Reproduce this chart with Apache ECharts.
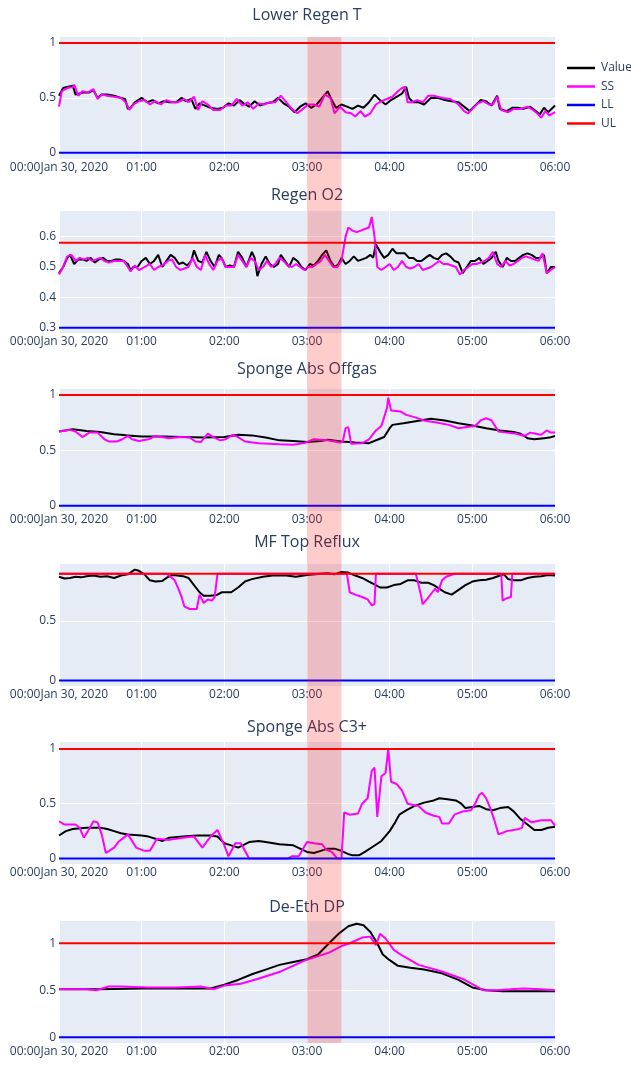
<!DOCTYPE html>
<html><head><meta charset="utf-8">
<script src="https://cdn.jsdelivr.net/npm/echarts@6/dist/echarts.min.js"></script>
<style>html,body{margin:0;padding:0;background:#fff}#c{width:631px;height:1066px}</style>
</head><body><div id="c"></div>
<script>
// ---------------- DATA ----------------
const titles = ['Lower Regen T', 'Regen O2', 'Sponge Abs Offgas', 'MF Top Reflux', 'Sponge Abs C3+', 'De-Eth DP'];
const seriesNames = ['Value', 'SS', 'LL', 'UL'];
const xTickValues = [0, 60, 120, 180, 240, 300, 360]; // minutes after 00:00 Jan 30, 2020
const xTickLabels = ['00:00Jan 30, 2020', '01:00', '02:00', '03:00', '04:00', '05:00', '06:00'];
const yTicks1 = [0, 0.5, 1];
const yTicks2 = [0.3, 0.4, 0.5, 0.6];
const yTicks3 = [0, 0.5, 1];
const yTicks4 = [0, 0.5];
const yTicks5 = [0, 0.5, 1];
const yTicks6 = [0, 0.5, 1];
const llValues = [0, 0.3, 0, 0, 0, 0];
const ulValues = [1, 0.58, 1, 0.895, 1, 1];
const shadeStart = 180, shadeEnd = 205; // 03:00 - 03:25

// [minute, value]
const value1 = [[0,0.52],[3,0.59],[6,0.6],[10,0.61],[12,0.53],[15,0.54],[18,0.55],[22,0.55],[25,0.57],[28,0.5],[31,0.53],[35,0.53],[40,0.52],[45,0.5],[48,0.49],[50,0.4],[52,0.41],[55,0.46],[60,0.5],[64,0.46],[68,0.48],[72,0.45],[76,0.47],[80,0.46],[85,0.46],[89,0.5],[92,0.47],[96,0.49],[99,0.4],[102,0.45],[106,0.43],[110,0.41],[115,0.4],[119,0.41],[123,0.45],[127,0.43],[131,0.48],[134,0.45],[138,0.42],[142,0.47],[146,0.43],[150,0.45],[155,0.46],[159,0.5],[163,0.45],[167,0.42],[171,0.37],[175,0.42],[179,0.45],[183,0.41],[187,0.44],[191,0.5],[195,0.56],[198,0.48],[201,0.41],[205,0.44],[209,0.42],[213,0.4],[217,0.43],[221,0.41],[225,0.46],[229,0.53],[233,0.48],[237,0.44],[241,0.48],[245,0.51],[249,0.54],[252,0.6],[254,0.5],[257,0.46],[261,0.46],[265,0.44],[270,0.5],[275,0.5],[280,0.48],[285,0.47],[290,0.46],[295,0.41],[298,0.38],[302,0.43],[306,0.48],[310,0.47],[314,0.43],[318,0.52],[320,0.4],[325,0.38],[329,0.41],[333,0.41],[337,0.4],[342,0.42],[346,0.38],[349,0.35],[352,0.41],[355,0.37],[360,0.43]];
const ss1 = [[0,0.42],[2,0.56],[6,0.59],[10,0.6],[11,0.62],[14,0.52],[17,0.56],[21,0.55],[25,0.58],[28,0.49],[31,0.53],[35,0.52],[40,0.51],[45,0.5],[49,0.45],[51,0.39],[54,0.44],[58,0.47],[62,0.48],[66,0.44],[70,0.47],[74,0.44],[78,0.48],[82,0.46],[86,0.46],[91,0.49],[94,0.46],[98,0.51],[101,0.39],[104,0.47],[108,0.44],[112,0.39],[117,0.39],[121,0.43],[125,0.43],[129,0.49],[133,0.43],[137,0.46],[141,0.4],[145,0.45],[149,0.44],[153,0.46],[157,0.46],[161,0.52],[165,0.46],[169,0.4],[173,0.36],[177,0.4],[181,0.44],[185,0.44],[189,0.42],[193,0.53],[197,0.5],[200,0.36],[204,0.42],[208,0.37],[212,0.36],[215,0.33],[219,0.38],[222,0.33],[226,0.36],[230,0.44],[234,0.47],[238,0.49],[242,0.51],[246,0.56],[249,0.59],[251,0.6],[253,0.46],[256,0.46],[260,0.48],[264,0.46],[268,0.52],[272,0.52],[278,0.5],[284,0.49],[290,0.44],[294,0.38],[297,0.36],[300,0.4],[304,0.45],[308,0.47],[312,0.44],[315,0.44],[318,0.51],[321,0.39],[326,0.37],[330,0.4],[335,0.4],[340,0.42],[344,0.39],[347,0.36],[350,0.32],[353,0.38],[356,0.34],[360,0.37]];

const value2 = [[0,0.48],[3,0.5],[6,0.53],[8,0.54],[11,0.51],[14,0.525],[17,0.525],[20,0.52],[23,0.53],[26,0.515],[29,0.525],[32,0.53],[35,0.52],[38,0.52],[41,0.525],[44,0.525],[47,0.52],[50,0.51],[52,0.49],[54,0.5],[57,0.5],[60,0.52],[63,0.53],[66,0.51],[69,0.52],[72,0.54],[75,0.5],[78,0.52],[81,0.54],[84,0.53],[87,0.51],[90,0.515],[93,0.505],[96,0.52],[98,0.555],[101,0.52],[104,0.515],[107,0.55],[110,0.52],[113,0.5],[116,0.54],[118,0.53],[121,0.5],[124,0.505],[127,0.5],[130,0.55],[133,0.53],[136,0.5],[140,0.55],[142,0.53],[144,0.47],[147,0.51],[150,0.535],[153,0.51],[156,0.5],[159,0.51],[161,0.54],[164,0.52],[167,0.5],[170,0.53],[173,0.52],[176,0.5],[179,0.49],[182,0.51],[185,0.505],[188,0.52],[191,0.54],[194,0.555],[197,0.52],[200,0.5],[203,0.51],[205,0.53],[208,0.51],[211,0.52],[214,0.535],[217,0.52],[220,0.525],[223,0.53],[226,0.54],[228,0.53],[230,0.575],[233,0.55],[236,0.53],[239,0.54],[242,0.56],[245,0.545],[248,0.545],[251,0.545],[254,0.53],[257,0.53],[260,0.52],[263,0.52],[266,0.53],[269,0.54],[272,0.53],[275,0.525],[278,0.54],[281,0.545],[284,0.535],[287,0.52],[290,0.515],[293,0.48],[296,0.5],[299,0.52],[302,0.52],[305,0.53],[308,0.51],[311,0.52],[314,0.53],[317,0.55],[319,0.52],[322,0.5],[325,0.53],[328,0.52],[331,0.52],[334,0.53],[337,0.54],[340,0.545],[343,0.54],[346,0.53],[349,0.53],[352,0.54],[354,0.48],[357,0.5],[360,0.5]];
const ss2 = [[0,0.475],[3,0.5],[6,0.535],[9,0.54],[12,0.52],[15,0.53],[18,0.525],[21,0.53],[24,0.52],[27,0.525],[30,0.53],[33,0.52],[36,0.515],[40,0.52],[44,0.52],[47,0.52],[50,0.5],[52,0.485],[55,0.505],[58,0.49],[62,0.5],[66,0.51],[69,0.49],[72,0.5],[75,0.505],[79,0.52],[82,0.525],[85,0.5],[88,0.49],[91,0.495],[94,0.5],[97,0.53],[100,0.5],[103,0.49],[106,0.54],[109,0.51],[112,0.49],[115,0.52],[118,0.53],[121,0.5],[124,0.5],[127,0.5],[130,0.54],[133,0.52],[136,0.5],[139,0.53],[142,0.52],[145,0.49],[148,0.5],[151,0.52],[154,0.5],[157,0.51],[160,0.53],[163,0.52],[166,0.505],[169,0.5],[172,0.51],[175,0.5],[178,0.49],[181,0.5],[184,0.5],[187,0.51],[190,0.52],[193,0.54],[196,0.52],[199,0.5],[202,0.5],[205,0.52],[208,0.6],[210,0.63],[213,0.62],[216,0.615],[219,0.62],[222,0.625],[225,0.63],[227,0.665],[229,0.6],[231,0.5],[234,0.49],[237,0.5],[240,0.51],[243,0.49],[246,0.5],[249,0.52],[252,0.5],[255,0.495],[258,0.5],[261,0.51],[264,0.49],[267,0.495],[270,0.5],[273,0.51],[276,0.52],[279,0.51],[282,0.51],[285,0.505],[288,0.5],[291,0.475],[294,0.49],[297,0.5],[300,0.51],[303,0.51],[306,0.515],[309,0.52],[312,0.53],[315,0.55],[318,0.51],[321,0.5],[324,0.52],[327,0.505],[330,0.51],[333,0.52],[336,0.53],[339,0.535],[342,0.53],[345,0.525],[348,0.52],[351,0.545],[354,0.48],[357,0.49],[360,0.5]];

const value3 = [[0,0.67],[10,0.69],[20,0.675],[30,0.665],[40,0.645],[45,0.64],[50,0.635],[60,0.625],[75,0.625],[90,0.62],[105,0.615],[120,0.62],[130,0.64],[140,0.635],[150,0.615],[160,0.59],[170,0.585],[180,0.575],[190,0.585],[195,0.595],[205,0.58],[215,0.57],[225,0.565],[232,0.6],[236,0.62],[240,0.7],[242,0.73],[250,0.745],[260,0.765],[270,0.785],[280,0.77],[290,0.745],[300,0.725],[310,0.7],[320,0.68],[330,0.665],[335,0.65],[340,0.61],[345,0.6],[352,0.61],[356,0.615],[360,0.63]];
const ss3 = [[0,0.67],[8,0.685],[12,0.67],[17,0.62],[22,0.66],[28,0.66],[33,0.6],[36,0.58],[42,0.58],[46,0.6],[50,0.63],[53,0.6],[58,0.585],[65,0.6],[70,0.63],[80,0.61],[88,0.62],[95,0.615],[99,0.58],[103,0.575],[108,0.65],[112,0.62],[117,0.59],[121,0.6],[126,0.64],[130,0.62],[135,0.58],[145,0.565],[160,0.555],[170,0.55],[178,0.565],[185,0.6],[195,0.59],[204,0.57],[206,0.58],[208,0.7],[210,0.71],[212,0.56],[220,0.565],[225,0.6],[230,0.68],[234,0.72],[236,0.8],[238,0.88],[239,0.975],[241,0.86],[248,0.85],[252,0.82],[258,0.8],[265,0.77],[275,0.75],[283,0.73],[290,0.7],[296,0.71],[302,0.72],[306,0.77],[310,0.79],[314,0.77],[319,0.67],[325,0.66],[332,0.65],[338,0.63],[342,0.66],[346,0.65],[350,0.64],[354,0.68],[357,0.66],[360,0.66]];

const value4 = [[0,0.87],[4,0.855],[8,0.86],[12,0.87],[16,0.865],[20,0.875],[25,0.88],[30,0.87],[35,0.875],[40,0.86],[45,0.88],[50,0.89],[55,0.93],[58,0.92],[62,0.89],[66,0.84],[70,0.83],[75,0.835],[78,0.86],[82,0.885],[86,0.88],[90,0.875],[94,0.86],[98,0.8],[102,0.74],[105,0.71],[110,0.71],[115,0.72],[118,0.74],[125,0.74],[130,0.78],[135,0.83],[140,0.85],[148,0.87],[155,0.88],[165,0.88],[172,0.87],[180,0.885],[190,0.895],[195,0.9],[200,0.89],[205,0.91],[210,0.905],[215,0.88],[220,0.86],[225,0.83],[230,0.8],[233,0.78],[238,0.78],[243,0.8],[248,0.81],[253,0.84],[258,0.84],[263,0.82],[268,0.82],[272,0.8],[276,0.77],[280,0.74],[285,0.72],[290,0.76],[295,0.8],[300,0.83],[305,0.84],[310,0.845],[315,0.86],[320,0.88],[323,0.89],[326,0.85],[330,0.84],[335,0.84],[340,0.86],[345,0.87],[350,0.875],[355,0.885],[360,0.88]];
const ss4 = [[0,0.895],[78,0.895],[81,0.87],[84,0.84],[87,0.76],[89,0.7],[91,0.62],[95,0.6],[100,0.6],[102,0.72],[105,0.65],[108,0.68],[111,0.67],[113,0.7],[115,0.895],[209,0.895],[211,0.74],[215,0.72],[220,0.7],[224,0.68],[227,0.63],[229,0.64],[230,0.895],[259,0.895],[261,0.8],[263,0.7],[264,0.64],[267,0.68],[271,0.74],[273,0.77],[275,0.74],[278,0.84],[281,0.87],[287,0.895],[321,0.895],[322,0.67],[325,0.69],[328,0.7],[329,0.895],[360,0.895]];

const value5 = [[0,0.21],[5,0.25],[10,0.27],[20,0.28],[30,0.28],[35,0.27],[40,0.25],[45,0.23],[50,0.22],[60,0.21],[65,0.2],[70,0.18],[75,0.16],[80,0.19],[90,0.2],[100,0.21],[110,0.21],[115,0.2],[120,0.14],[125,0.12],[130,0.1],[138,0.15],[145,0.16],[150,0.15],[160,0.13],[170,0.12],[175,0.09],[180,0.06],[185,0.05],[190,0.07],[195,0.09],[200,0.09],[205,0.07],[210,0.04],[213,0.03],[218,0.03],[222,0.06],[228,0.11],[234,0.16],[240,0.25],[244,0.33],[247,0.4],[252,0.44],[258,0.48],[265,0.51],[272,0.53],[276,0.55],[282,0.54],[288,0.53],[292,0.5],[295,0.46],[300,0.47],[305,0.48],[310,0.45],[315,0.44],[320,0.46],[326,0.47],[330,0.43],[335,0.36],[340,0.31],[345,0.26],[350,0.26],[355,0.28],[360,0.29]];
const ss5 = [[0,0.34],[4,0.31],[12,0.31],[15,0.28],[18,0.19],[21,0.25],[25,0.34],[28,0.33],[31,0.22],[34,0.05],[40,0.1],[43,0.15],[50,0.22],[56,0.1],[62,0.07],[66,0.07],[71,0.18],[80,0.17],[90,0.19],[98,0.2],[104,0.1],[110,0.2],[115,0.26],[120,0.12],[123,0.02],[128,0.14],[132,0.14],[138,0.0],[166,0.0],[169,0.02],[174,0.02],[180,0.15],[185,0.14],[191,0.13],[194,0.08],[198,0.06],[202,0.0],[205,0.0],[206,0.2],[207,0.42],[211,0.4],[217,0.41],[220,0.5],[224,0.55],[227,0.8],[229,0.83],[231,0.38],[234,0.75],[237,0.78],[239,1.0],[241,0.7],[245,0.68],[249,0.62],[253,0.5],[261,0.48],[266,0.42],[272,0.39],[276,0.38],[278,0.32],[283,0.32],[287,0.4],[293,0.43],[299,0.44],[302,0.5],[305,0.58],[307,0.6],[310,0.55],[313,0.46],[316,0.35],[319,0.22],[325,0.25],[334,0.27],[336,0.28],[338,0.37],[343,0.33],[350,0.35],[357,0.35],[360,0.3]];

const value6 = [[0,0.51],[30,0.51],[60,0.52],[90,0.52],[110,0.52],[120,0.56],[130,0.61],[140,0.67],[150,0.72],[160,0.77],[170,0.8],[180,0.83],[188,0.88],[196,1.0],[203,1.1],[210,1.18],[216,1.207],[221,1.19],[226,1.12],[231,1.0],[235,0.88],[240,0.82],[246,0.76],[255,0.74],[265,0.72],[278,0.68],[290,0.61],[300,0.53],[310,0.5],[322,0.49],[360,0.49]];
const ss6 = [[0,0.51],[20,0.51],[27,0.5],[36,0.54],[45,0.54],[65,0.53],[85,0.53],[103,0.54],[112,0.51],[120,0.55],[132,0.57],[144,0.62],[161,0.7],[179,0.82],[196,0.9],[205,0.97],[211,1.0],[220,1.06],[226,1.07],[230,0.98],[233,1.1],[237,1.05],[243,0.93],[249,0.87],[261,0.77],[278,0.7],[293,0.62],[302,0.55],[308,0.5],[317,0.5],[328,0.51],[337,0.52],[350,0.51],[360,0.5]];

const valueData = [value1, value2, value3, value4, value5, value6];
const ssData = [ss1, ss2, ss3, ss4, ss5, ss6];
const yTicks = [yTicks1, yTicks2, yTicks3, yTicks4, yTicks5, yTicks6];

// ---------------- LAYOUT ----------------
const gridTops = [37, 211, 389, 564, 742, 921];
const gridH = 122, gridLeft = 59, gridW = 496;
const titleCenters = [16, 196, 370, 543, 728, 908];
const yRanges = [[-0.056, 1.054], [0.2826, 0.6845], [-0.048, 1.054], [-0.046, 0.977], [-0.05, 1.063], [-0.06, 1.236]];
const FONT = '"Open Sans", "Noto Sans", sans-serif';
const TXT = '#2a3f5f';

const chart = echarts.init(document.getElementById('c'), null, { renderer: 'canvas' });

const grids = [], xAxes = [], yAxes = [], series = [], titleOpts = [];
for (let i = 0; i < 6; i++) {
  grids.push({ left: gridLeft, top: gridTops[i], width: gridW, height: gridH, show: true,
    backgroundColor: '#E5ECF6', borderWidth: 0, containLabel: false });
  xAxes.push({ type: 'value', gridIndex: i, min: 0, max: 360, interval: 60,
    axisLine: { show: false }, axisTick: { show: false },
    splitLine: { show: true, lineStyle: { color: '#ffffff', width: 1 } },
    axisLabel: { color: TXT, fontFamily: FONT, fontSize: 12, margin: 3, showMinLabel: true, showMaxLabel: true,
      formatter: v => { const k = xTickValues.indexOf(v); return k >= 0 ? xTickLabels[k] : ''; } } });
  yAxes.push({ type: 'value', gridIndex: i, min: yRanges[i][0], max: yRanges[i][1],
    axisLine: { show: false }, axisTick: { show: false, customValues: yTicks[i] },
    splitLine: { show: true, lineStyle: { color: '#ffffff', width: 1 } },
    axisLabel: { color: TXT, fontFamily: FONT, fontSize: 12, margin: 3, customValues: yTicks[i],
      formatter: v => String(+v.toFixed(2)) } });
  titleOpts.push({ text: titles[i], left: gridLeft + gridW / 2, top: titleCenters[i] - 9, textAlign: 'center', padding: 0,
    textStyle: { color: TXT, fontFamily: FONT, fontSize: 16, fontWeight: 'normal' } });
  const base = { type: 'line', xAxisIndex: i, yAxisIndex: i, symbol: 'none', showSymbol: false, animation: false, silent: true };
  series.push(Object.assign({}, base, { name: 'Value', data: valueData[i], lineStyle: { color: '#000000', width: 2 }, itemStyle: { color: '#000000' }, z: 2 }));
  series.push(Object.assign({}, base, { name: 'SS', data: ssData[i], lineStyle: { color: '#ff00ff', width: 2 }, itemStyle: { color: '#ff00ff' }, z: 3 }));
  series.push(Object.assign({}, base, { name: 'LL', data: [[0, llValues[i]], [360, llValues[i]]], lineStyle: { color: '#0000ff', width: 2 }, itemStyle: { color: '#0000ff' }, z: 4 }));
  series.push(Object.assign({}, base, { name: 'UL', data: [[0, ulValues[i]], [360, ulValues[i]]], lineStyle: { color: '#ff0000', width: 2 }, itemStyle: { color: '#ff0000' }, z: 5 }));
}

chart.setOption({
  animation: false,
  backgroundColor: '#ffffff',
  title: titleOpts,
  legend: { data: seriesNames, orient: 'vertical', left: 567, top: 62, icon: 'rect', itemWidth: 28, itemHeight: 2.5, itemGap: 6.5,
    padding: 0, textStyle: { color: TXT, fontFamily: FONT, fontSize: 12, padding: [0, 0, 0, 1] } },
  grid: grids, xAxis: xAxes, yAxis: yAxes, series: series
});

// shaded band 03:00 - 03:25 spanning all subplots (paper-y)
const x0 = chart.convertToPixel({ xAxisIndex: 0 }, shadeStart);
const x1 = chart.convertToPixel({ xAxisIndex: 0 }, shadeEnd);
const yTop = chart.convertToPixel({ yAxisIndex: 0 }, yRanges[0][1]);
const yBot = chart.convertToPixel({ yAxisIndex: 5 }, yRanges[5][0]);
chart.setOption({ graphic: [{ type: 'rect', silent: true, z: 100,
  shape: { x: x0, y: yTop, width: x1 - x0, height: yBot - yTop },
  style: { fill: 'rgba(255,0,0,0.2)' } }] });
</script></body></html>
